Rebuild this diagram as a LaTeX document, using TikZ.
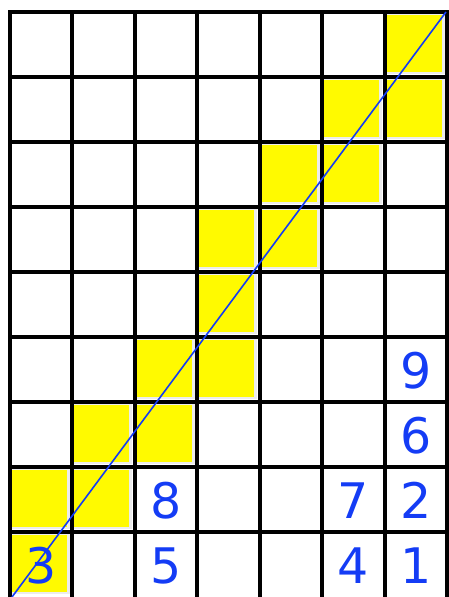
\documentclass[tikz,border=0pt]{standalone}
\usepackage{fontspec}
\newfontfamily\digitfont{DejaVu Sans}
\definecolor{numblue}{RGB}{20,60,245}
\definecolor{cellyellow}{RGB}{255,250,0}

\begin{document}
\begin{tikzpicture}[x=1pt, y=-1pt,
  gridline/.style={line width=4pt, black, line cap=rect},
  halo/.style={fill=gray!15},
  hl/.style={fill=cellyellow},
  num/.style={font=\digitfont\fontsize{49}{49}\selectfont, text=numblue, inner sep=0pt},
  diag/.style={draw=numblue, line width=1.6pt}
]

\useasboundingbox (0,0) rectangle (449,597);

% Cell size and origin
\def\cw{62.43}
\def\ch{65}
\def\ox{10}
\def\oy{12}

% Highlighted cells
\foreach \cc/\rr in {6/0,5/1,6/1,4/2,5/2,3/3,4/3,3/4,2/5,3/5,1/6,2/6,0/7,1/7,0/8}{
  \fill[halo] (\ox+\cc*\cw, \oy+\rr*\ch+1) rectangle ++(60,61);
  \fill[hl] (\ox+\cc*\cw+2, \oy+\rr*\ch+3) rectangle ++(55,57);
}

% Grid
\foreach \i in {0,...,7}
  \draw[gridline] (\ox+\i*\cw, \oy) -- (\ox+\i*\cw, 600);
\foreach \j in {0,...,8}
  \draw[gridline] (\ox, \oy+\j*\ch) -- (\ox+7*\cw, \oy+\j*\ch);

% Diagonal
\coordinate (lo) at (12,597);
\coordinate (hi) at (446,12);
\draw[diag] (lo) -- (hi);

% Numbers
\foreach \cc/\rr/\d in {0/8/3, 2/8/5, 5/8/4, 6/8/1, 2/7/8, 5/7/7, 6/7/2, 6/6/6, 6/5/9}
  \node[num] (n\d) at (\ox+\cc*\cw+0.5*\cw, \oy+\rr*\ch+0.5*\ch+1) {\d};

\end{tikzpicture}
\end{document}
